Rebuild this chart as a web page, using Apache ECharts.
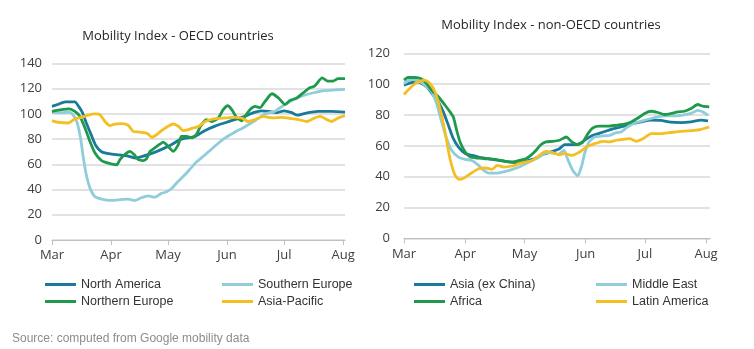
<!DOCTYPE html>
<html>
<head>
<meta charset="utf-8">
<script src="https://cdn.jsdelivr.net/npm/echarts@6/dist/echarts.min.js"></script>
<style>
  html, body { margin: 0; padding: 0; background: #ffffff; }
  #chart { width: 754px; height: 349px; }
</style>
</head>
<body>
<div id="chart"></div>
<script>
// Horizontal positions are days counted from 1 March 2020.
const monthStarts = [0, 31, 61, 92, 122, 153];
const monthLabels = ['Mar', 'Apr', 'May', 'Jun', 'Jul', 'Aug'];

// OECD regions: [day, mobility index]
const northAmerica = [[0,106],[3,107.5],[7,109.5],[12,109.5],[14,106],[16,101],[18,93],[21,82],[23,75],[26,70],[30,68.5],[35,67.5],[40,66.5],[44,65],[48,66.5],[52,68.5],[57,71.5],[62,75],[68,80],[75,82],[80,86.5],[86,90.5],[91,93],[96,95.5],[101,98],[106,101],[110,102.5],[114,102],[118,101],[122,102.5],[126,101],[129,99],[133,100.5],[140,102],[147,102],[154,101.5]];
const southernEurope = [[0,101.5],[5,101],[9,101.5],[11,99.5],[13,94],[15,81],[16.5,65],[18,52],[20,41],[22.5,34.5],[26,32.5],[31,31.5],[36,32],[40,32.5],[43.5,31.3],[47,33.5],[50.5,35],[54,34],[57.5,37],[60,38],[63,41],[66,46],[70,52],[73,57],[76,62],[80,67],[86,75],[91,81],[96,85.5],[101,89.5],[107,95],[112,100],[117,102],[122,107],[128,112],[133,115],[138,117],[143,118.5],[149,119],[154,119.5]];
const northernEurope = [[0,102],[5,103.4],[9,104],[12,102],[14.7,98],[17.3,89],[20,78],[22.6,69],[26,63],[29.6,61],[34,59.7],[35.7,63.7],[38.4,68],[41,70.3],[43.3,67.6],[45.4,63.7],[48,63],[49.7,64.5],[51.5,70.3],[54,73],[56.7,76],[58.5,77.7],[61,74.3],[63.7,70.3],[66.4,75.6],[68,82.2],[70.7,82.2],[73.4,81],[76,84],[78,90],[81,95.5],[84,94],[87.5,97],[90,103.4],[92.4,106.5],[94.5,103.4],[97,97.3],[99.7,94.5],[101.5,98],[104,103.4],[106.8,106],[109.4,105],[112,110],[115.6,116],[119,112.7],[122.5,107.4],[125,110.6],[128.7,112.7],[132,116.7],[135.5,120.7],[138,122],[142,128.6],[145,126],[147.7,126],[150.4,128],[154,128]];
const asiaPacific = [[0,94.7],[3,93.4],[8.6,92.8],[12,96],[15.6,97.3],[19,99],[22.6,100],[25.2,99.5],[27.8,94],[30.5,90.7],[33,92],[36.6,92.3],[40,91],[42.7,86.2],[45.4,85.7],[48.9,85],[50.6,84],[52.4,81.4],[55,83.5],[57.6,86.7],[61,90.2],[63.7,92],[66.4,90.2],[69,86.7],[71.6,87.5],[74.3,88.9],[77,90],[80.5,94],[85.8,96.3],[91,96.8],[96,97.3],[99.7,96.8],[103,94],[106.8,95.5],[111,98],[115.6,96.8],[120.7,97.3],[126,96.3],[129.5,95.5],[134,94],[138,96.8],[141,98],[144.5,95.5],[147,94],[150.4,96.8],[154,98.7]];

// non-OECD regions: [day, mobility index]
const asiaExChina = [[0,99.3],[3.7,101],[7.2,101.5],[9.7,99.8],[12.3,97.2],[14.8,92.8],[17.4,88.5],[19.9,82],[22.5,73.3],[25,64.6],[27.6,59.2],[31,55],[34.4,53.8],[37.8,52.7],[43,51.6],[48,50.5],[53,49.5],[56.6,49],[60,49.5],[65,51.2],[70,54.2],[75.3,56.4],[78.7,58.1],[81.4,60.7],[86.4,60.7],[89,61.4],[91.5,63.6],[94.9,66.4],[100,68.5],[105,70.7],[110,72.2],[115,74],[120.2,75.5],[125.2,76.6],[130,76.5],[135,75.3],[140.4,75],[145.4,75.5],[150.5,76.6],[154,76.1]];
const middleEast = [[0,100.4],[3.7,103],[7.2,102],[10.6,99.3],[14,95],[16.5,87.4],[19.1,75.5],[21.6,64.6],[24.2,57],[27.6,52.7],[31,51.2],[34.4,50.5],[37.8,47.3],[40.4,44],[43,42.3],[48,42.5],[51.4,43.4],[54.9,44.7],[58.3,46.2],[61.7,48.4],[65,50.5],[68.5,52.7],[71.9,55.5],[75,55.5],[78,54.5],[81,57],[83,51],[85.5,44],[88,40.5],[90,47],[91.5,55],[93.5,62],[96.6,65.7],[100.8,66.4],[104.2,66.8],[107.5,68.5],[110,69],[112.6,71.6],[116,74.4],[120.2,76],[125.2,77.7],[130.3,79.2],[135.3,79.4],[140.4,79.8],[145.4,81],[148.8,83],[151.3,82],[154,79.8]];
const africa = [[0,102.6],[2,104.3],[5.5,104.3],[8.9,103.3],[11.4,100.4],[14,96],[17.4,91.8],[20.8,86.3],[23.3,82],[25,78.7],[26.7,70],[28.4,62.5],[31,56],[33.6,52.7],[37.8,52],[41.2,51.6],[46.3,51.2],[51.4,49.9],[54.9,49.5],[58.3,50.5],[61.7,51.6],[64.2,53.8],[66.8,57],[69.3,60.7],[71.9,62.5],[75.3,62.9],[78.7,63.6],[82.2,65.7],[84.7,62.9],[88,60.7],[90.6,62.5],[93.2,67.9],[95.7,71.6],[99.1,72.7],[103.3,72.7],[107.5,73.3],[111.7,74],[115.1,75.5],[118.5,78],[121.9,81],[125.2,82.4],[128.6,81.6],[132,80.3],[135.3,81],[138.7,82],[142,82.4],[145.4,84.2],[148.8,86.8],[151.3,85.7],[154.6,85.2]];
const latinAmerica = [[0,93.3],[2,96.1],[4.6,99.3],[7.2,101.5],[10.6,102.6],[13.1,100.4],[15.7,95],[18.2,84.2],[20.8,69],[23.3,51.6],[25.9,40.8],[27.9,38.2],[30.2,39],[33.6,41.9],[37.8,45.1],[41.2,45.6],[44.6,44.7],[47.2,47.3],[50.6,46.2],[54.9,46.9],[58.3,48.4],[61.7,49.5],[65,50.5],[68.5,53.8],[71.9,56.4],[75.3,55.5],[78.7,54.2],[81.4,54.9],[84.7,53.8],[89,56],[92.4,59.2],[96.6,61.4],[100.8,62.9],[104.2,62.5],[107.5,63.6],[110.9,64.2],[114.3,64.6],[117.6,62.9],[121,64.6],[125.2,67.9],[130.3,67.9],[134.5,68.5],[140.4,69.4],[147.1,70],[150.5,70.7],[154.6,72.2]];

const COLORS = {
  teal: '#1a7a99',
  lightBlue: '#8fcddb',
  green: '#1f9a4c',
  yellow: '#f3bf22'
};
const AXIS_FONT = '"Open Sans", "Noto Sans", sans-serif';
const LEGEND_FONT = '"Liberation Sans", Arial, sans-serif';

function monthName(v) {
  const i = monthStarts.indexOf(v);
  return i >= 0 ? monthLabels[i] : '';
}

function xAxis(gridIndex, max) {
  return {
    type: 'value', gridIndex, min: 0, max,
    axisLine: { show: true, lineStyle: { color: '#bfbfbf', width: 1 } },
    axisTick: { show: true, customValues: monthStarts, length: 5, lineStyle: { color: '#bfbfbf' } },
    axisLabel: { customValues: monthStarts, formatter: monthName, color: '#404040', fontSize: 13, fontFamily: AXIS_FONT, margin: 9 },
    splitLine: { show: false }
  };
}

function yAxis(gridIndex, max, margin) {
  return {
    type: 'value', gridIndex, min: 0, max, interval: 20,
    axisLine: { show: false }, axisTick: { show: false },
    axisLabel: { color: '#404040', fontSize: 13, fontFamily: AXIS_FONT, margin },
    splitLine: { lineStyle: { color: '#d9d9d9', width: 1.5 } }
  };
}

function line(name, data, color, axis) {
  return {
    type: 'line', name, data, xAxisIndex: axis, yAxisIndex: axis,
    symbol: 'none', smooth: 0.2,
    lineStyle: { width: 2.8, color },
    itemStyle: { color }
  };
}

function legend(names, left) {
  return {
    data: names, orient: 'vertical', left, top: 278, padding: 0,
    icon: 'rect', itemWidth: 31, itemHeight: 3, itemGap: 4,
    selectedMode: false,
    textStyle: { fontSize: 12.5, color: '#333333', fontFamily: LEGEND_FONT }
  };
}

const titleStyle = { fontSize: 13, fontWeight: 'normal', color: '#262626', fontFamily: AXIS_FONT };

const chart = echarts.init(document.getElementById('chart'), null, { renderer: 'canvas' });
chart.setOption({
  animation: false,
  backgroundColor: '#ffffff',
  title: [
    { text: 'Mobility Index - OECD countries', left: 178, top: 30, textAlign: 'center', padding: 0, textStyle: titleStyle },
    { text: 'Mobility Index - non-OECD countries', left: 551, top: 19, textAlign: 'center', padding: 0, textStyle: titleStyle }
  ],
  grid: [
    { left: 52, top: 63.5, width: 293, height: 176.5 },
    { left: 404, top: 53.3, width: 306, height: 185 }
  ],
  xAxis: [xAxis(0, 154), xAxis(1, 155)],
  yAxis: [yAxis(0, 140, 10), yAxis(1, 120, 14)],
  legend: [
    legend(['North America', 'Northern Europe'], 45),
    legend(['Southern Europe', 'Asia-Pacific'], 222),
    legend(['Asia (ex China)', 'Africa'], 414),
    legend(['Middle East', 'Latin America'], 596)
  ],
  graphic: [{
    type: 'text', left: 12, top: 333,
    style: { text: 'Source: computed from Google mobility data', fill: '#8c8c8c', font: '12px "Liberation Sans", Arial, sans-serif' }
  }],
  series: [
    line('North America', northAmerica, COLORS.teal, 0),
    line('Southern Europe', southernEurope, COLORS.lightBlue, 0),
    line('Northern Europe', northernEurope, COLORS.green, 0),
    line('Asia-Pacific', asiaPacific, COLORS.yellow, 0),
    line('Asia (ex China)', asiaExChina, COLORS.teal, 1),
    line('Middle East', middleEast, COLORS.lightBlue, 1),
    line('Africa', africa, COLORS.green, 1),
    line('Latin America', latinAmerica, COLORS.yellow, 1)
  ]
});
</script>
</body>
</html>
